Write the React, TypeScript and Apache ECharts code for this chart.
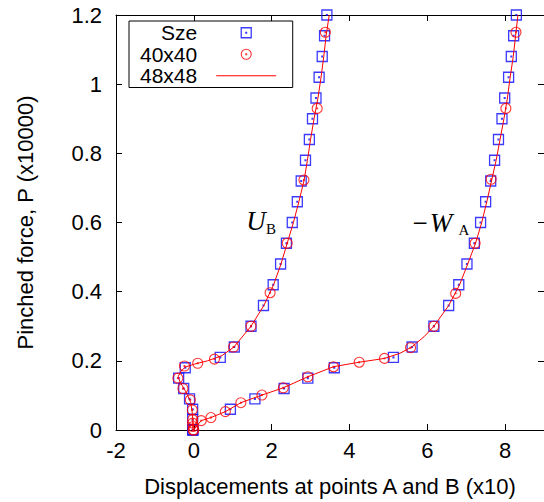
import React, { useEffect, useRef } from 'react';
import * as echarts from 'echarts';

// Sze (squares): U_B branch and -W_A branch, load P (x10000) vs displacement (x10)
const szeUB_P = [0, 0.03, 0.06, 0.09, 0.12, 0.15, 0.18, 0.21, 0.24, 0.30, 0.36, 0.42, 0.48, 0.54, 0.60, 0.66, 0.72, 0.78, 0.84, 0.90, 0.96, 1.02, 1.08, 1.14, 1.20];
const szeUB_X = [-0.03, -0.03, -0.03, -0.11, -0.26, -0.39, -0.22, 0.68, 1.04, 1.47, 1.79, 2.04, 2.23, 2.38, 2.53, 2.66, 2.76, 2.87, 2.97, 3.05, 3.14, 3.22, 3.30, 3.36, 3.42];
const szeWA_P = [0, 0.06, 0.09, 0.12, 0.15, 0.18, 0.21, 0.24, 0.30, 0.36, 0.42, 0.48, 0.54, 0.60, 0.66, 0.72, 0.78, 0.84, 0.90, 0.96, 1.02, 1.08, 1.14, 1.20];
const szeWA_X = [-0.02, 0.94, 1.57, 2.32, 2.93, 3.61, 5.13, 5.61, 6.17, 6.55, 6.81, 7.02, 7.21, 7.37, 7.50, 7.63, 7.73, 7.83, 7.92, 7.99, 8.09, 8.16, 8.22, 8.29];

// 40x40 (circles)
const c40UB_P = [0, 0.01, 0.02, 0.03, 0.058, 0.087, 0.12, 0.15, 0.185, 0.193, 0.205, 0.24, 0.30, 0.397, 0.54, 0.723, 0.93, 1.15];
const c40UB_X = [-0.02, -0.02, -0.03, -0.03, -0.04, -0.09, -0.28, -0.41, -0.24, 0.10, 0.53, 1.02, 1.47, 1.96, 2.40, 2.83, 3.17, 3.38];
const c40WA_P = [0, 0.027, 0.036, 0.053, 0.079, 0.101, 0.122, 0.154, 0.183, 0.196, 0.207, 0.238, 0.30, 0.395, 0.54, 0.725, 0.93, 1.15];
const c40WA_X = [0, 0.19, 0.44, 0.81, 1.21, 1.75, 2.30, 2.93, 3.59, 4.25, 4.90, 5.57, 6.17, 6.73, 7.23, 7.64, 8.02, 8.28];

// 48x48 (line)
const l48UB_P = [0, 0.02, 0.05, 0.08, 0.11, 0.14, 0.155, 0.17, 0.182, 0.19, 0.20, 0.215, 0.24, 0.30, 0.36, 0.42, 0.48, 0.54, 0.60, 0.66, 0.72, 0.78, 0.84, 0.90, 0.96, 1.02, 1.08, 1.14, 1.20];
const l48UB_X = [-0.02, -0.02, -0.04, -0.08, -0.20, -0.36, -0.40, -0.33, -0.22, 0.0, 0.35, 0.72, 1.03, 1.47, 1.80, 2.05, 2.24, 2.40, 2.56, 2.70, 2.83, 2.92, 3.00, 3.09, 3.19, 3.27, 3.34, 3.40, 3.48];
const l48WA_P = [0, 0.01, 0.027, 0.036, 0.053, 0.079, 0.101, 0.122, 0.154, 0.183, 0.196, 0.207, 0.222, 0.24, 0.27, 0.30, 0.36, 0.42, 0.48, 0.54, 0.60, 0.66, 0.72, 0.78, 0.84, 0.90, 0.96, 1.02, 1.08, 1.14, 1.20];
const l48WA_X = [0, 0.06, 0.19, 0.44, 0.81, 1.21, 1.75, 2.30, 2.93, 3.59, 4.25, 4.90, 5.30, 5.60, 5.92, 6.17, 6.55, 6.83, 7.04, 7.24, 7.40, 7.53, 7.65, 7.77, 7.87, 7.97, 8.06, 8.13, 8.21, 8.27, 8.33];

const legendNames = ['Sze', '40x40', '48x48'];
const xTitle = 'Displacements at points A and B (x10)';
const yTitle = 'Pinched force, P (x10000)';

const SQUARE = 'path://M0 0H10V10H0Z M4.6 4.6H5.4V5.4H4.6Z';
const CIRCLE = 'path://M5 0A5 5 0 1 1 5 10A5 5 0 1 1 5 0Z M4.6 4.6H5.4V5.4H4.6Z';

const BLUE = '#0a0aff';
const RED = '#ff0000';
const FONT = 'Liberation Sans';
const CLEAR = 'rgba(0,0,0,0)';

const zip = (xs: number[], ps: number[]) => xs.map((x, i) => [x, ps[i]]);

export default function App() {
  const ref = useRef<HTMLDivElement>(null);
  useEffect(() => {
    if (!ref.current) return;
    const chart = echarts.init(ref.current, undefined, { renderer: 'svg' });
    const axisCommon = {
      type: 'value' as const,
      axisLine: { show: true, onZero: false, lineStyle: { color: '#000', width: 1 } },
      axisTick: { show: true, inside: true, length: 6, lineStyle: { color: '#000', width: 1 } },
      splitLine: { show: false },
    };
    const xFmt = (v: number) => (Math.abs(v % 2) < 1e-9 ? String(v) : '');
    const sqStyle = { color: CLEAR, borderColor: BLUE, borderWidth: 1.3 };
    const ciStyle = { color: CLEAR, borderColor: RED, borderWidth: 1.1 };
    chart.setOption({
      animation: false,
      grid: { left: 116, right: -3, top: 15, bottom: 72, containLabel: false },
      xAxis: [
        {
          ...axisCommon,
          position: 'bottom',
          min: -2, max: 9, interval: 2,
          axisLabel: { show: true, margin: 9, fontSize: 22, fontFamily: FONT, color: '#000', formatter: xFmt, showMaxLabel: false },
          name: xTitle, nameLocation: 'middle', nameGap: 45,
          nameTextStyle: { fontSize: 22, fontFamily: FONT, color: '#000' },
        },
        {
          ...axisCommon,
          position: 'top',
          min: -2, max: 9, interval: 2,
          axisLabel: { show: false },
        },
      ],
      yAxis: [
        {
          ...axisCommon,
          position: 'left',
          min: 0, max: 1.2, interval: 0.2,
          axisLabel: { show: true, margin: 14, fontSize: 22, fontFamily: FONT, color: '#000' },
          name: yTitle, nameLocation: 'middle', nameGap: 80,
          nameTextStyle: { fontSize: 22, fontFamily: FONT, color: '#000' },
        },
        {
          ...axisCommon,
          position: 'right',
          min: 0, max: 1.2, interval: 0.2,
          axisLabel: { show: false },
        },
      ],
      legend: {
        orient: 'vertical',
        left: 129, top: 21,
        align: 'right',
        itemWidth: 60, itemHeight: 10, itemGap: 0,
        padding: [1, 16, 1, 11],
        borderColor: '#000', borderWidth: 1, backgroundColor: '#fff',
        selectedMode: false,
        textStyle: { fontSize: 21, fontFamily: FONT, color: '#000', lineHeight: 21.5, padding: [0, 14, 0, 0] },
        data: [
          { name: legendNames[0], icon: SQUARE, itemStyle: sqStyle },
          { name: legendNames[1], icon: CIRCLE, itemStyle: ciStyle },
          { name: legendNames[2], itemStyle: { color: CLEAR, borderColor: CLEAR, borderWidth: 0 }, lineStyle: { color: RED, width: 1 } },
        ],
      },
      series: [
        { name: legendNames[0], type: 'scatter', symbol: SQUARE, symbolSize: 10, itemStyle: sqStyle, data: zip(szeUB_X, szeUB_P), z: 2 },
        { name: legendNames[0], type: 'scatter', symbol: SQUARE, symbolSize: 10, itemStyle: sqStyle, data: zip(szeWA_X, szeWA_P), z: 2 },
        { name: legendNames[1], type: 'scatter', symbol: CIRCLE, symbolSize: 10, itemStyle: ciStyle, data: zip(c40UB_X, c40UB_P), z: 3 },
        { name: legendNames[1], type: 'scatter', symbol: CIRCLE, symbolSize: 10, itemStyle: ciStyle, data: zip(c40WA_X, c40WA_P), z: 3 },
        { name: legendNames[2], type: 'line', symbol: 'none', showSymbol: false, lineStyle: { color: RED, width: 1 }, itemStyle: { color: RED }, data: zip(l48UB_X, l48UB_P), z: 4 },
        { name: legendNames[2], type: 'line', symbol: 'none', showSymbol: false, lineStyle: { color: RED, width: 1 }, itemStyle: { color: RED }, data: zip(l48WA_X, l48WA_P), z: 4 },
      ],
      graphic: [
        { type: 'text', x: 256, y: 221, style: { text: 'U', font: 'italic 27px "Liberation Serif"', fill: '#000', align: 'center', verticalAlign: 'middle' } },
        { type: 'text', x: 271, y: 228.5, style: { text: 'B', font: '15px "Liberation Serif"', fill: '#000', align: 'center', verticalAlign: 'middle' } },
        { type: 'text', x: 420, y: 222.5, style: { text: '\u2212', font: '27px "Liberation Serif"', fill: '#000', align: 'center', verticalAlign: 'middle' } },
        { type: 'text', x: 441, y: 223, style: { text: 'W', font: 'italic 27px "Liberation Serif"', fill: '#000', align: 'center', verticalAlign: 'middle' } },
        { type: 'text', x: 464, y: 230, style: { text: 'A', font: '15px "Liberation Serif"', fill: '#000', align: 'center', verticalAlign: 'middle' } },
      ],
    });
    return () => chart.dispose();
  }, []);
  return (
    <div
      ref={ref}
      style={{ position: 'absolute', left: 0, top: 0, width: 544, height: 502, background: '#fff' }}
    />
  );
}
